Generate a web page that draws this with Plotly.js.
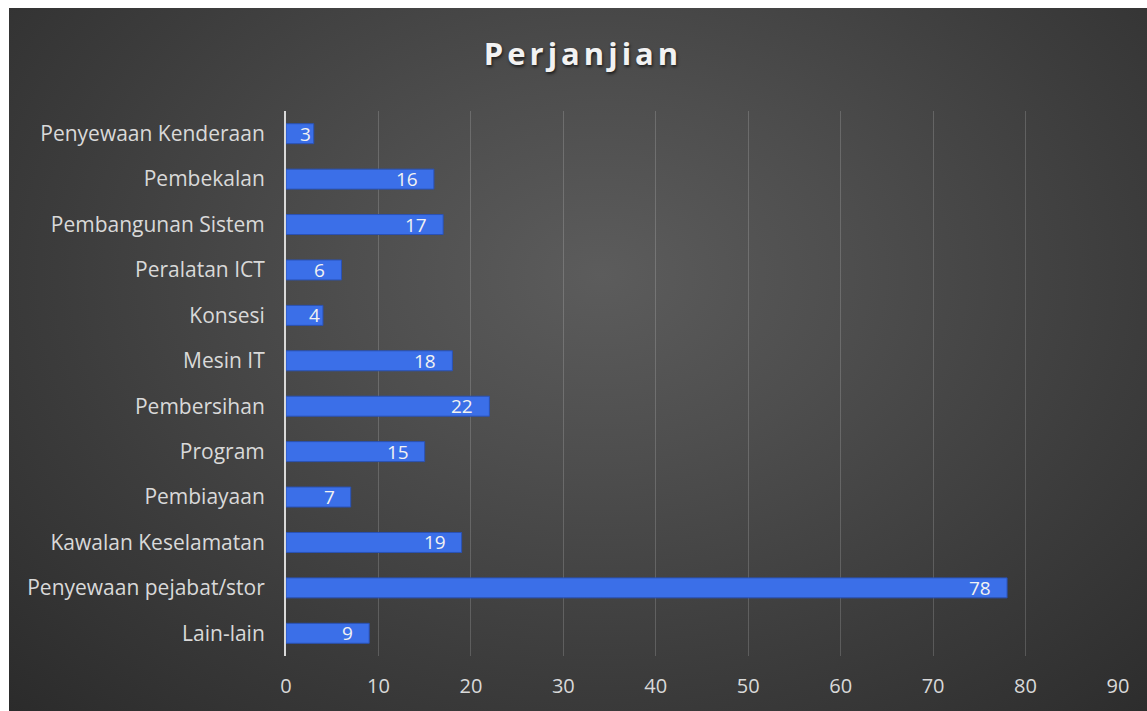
<!DOCTYPE html>
<html>
<head>
<meta charset="utf-8">
<script src="https://cdn.plot.ly/plotly-3.0.1.min.js"></script>
<style>
  html, body { margin: 0; padding: 0; background: #ffffff; width: 1147px; height: 711px; overflow: hidden; }
  #chart {
    position: absolute; left: 9px; top: 8px; width: 1138px; height: 703px;
    background: radial-gradient(ellipse farthest-corner at 52% 38%, #5c5c5c 0%, #4e4e4e 30%, #3c3c3c 65%, #2b2b2b 100%);
  }
  .gtitle { letter-spacing: 4px; }
</style>
</head>
<body>
<div id="chart"></div>
<script>
const categories = [
  "Penyewaan Kenderaan", "Pembekalan", "Pembangunan Sistem", "Peralatan ICT",
  "Konsesi", "Mesin IT", "Pembersihan", "Program", "Pembiayaan",
  "Kawalan Keselamatan", "Penyewaan pejabat/stor", "Lain-lain"
];
const values = [3, 16, 17, 6, 4, 18, 22, 15, 7, 19, 78, 9];
const xTicks = [0, 10, 20, 30, 40, 50, 60, 70, 80, 90];
const chartTitle = "Perjanjian";

const FONT = "Open Sans, Noto Sans, sans-serif";
const labelColor = "#d9d9d9";

const trace = {
  type: "bar",
  orientation: "h",
  x: values,
  y: categories,
  marker: { color: "#3b6fe8", line: { color: "#2a52b5", width: 1 } },
  width: 0.44,
  hoverinfo: "x+y"
};

const annotations = values.map((v, i) => ({
  x: v, y: categories[i], xref: "x", yref: "y",
  text: String(v), showarrow: false, xanchor: "right", yanchor: "middle",
  xshift: v < 5 ? -1 : -14,
  font: { family: FONT, size: 19, color: "#f2f2f2" }
}));

const layout = {
  width: 1138, height: 703,
  paper_bgcolor: "rgba(0,0,0,0)",
  plot_bgcolor: "rgba(0,0,0,0)",
  margin: { l: 277, r: 29, t: 103, b: 55 },
  showlegend: false,
  title: {
    text: "<b>" + chartTitle + "</b>",
    font: { family: FONT, size: 31, color: "#f2f2f2", shadow: "1px 2px 3px rgba(0,0,0,0.6)" },
    xref: "container", yref: "container", x: 0.5044, y: 0.935, xanchor: "center", yanchor: "middle"
  },
  xaxis: {
    range: [0, 90], tickvals: xTicks, ticktext: xTicks.map(String),
    showgrid: true, gridcolor: "rgba(255,255,255,0.17)", gridwidth: 1,
    zeroline: false, showline: false,
    ticks: "outside", ticklen: 12, tickcolor: "rgba(0,0,0,0)",
    tickfont: { family: FONT, size: 20, color: labelColor },
    fixedrange: true
  },
  yaxis: {
    type: "category", categoryorder: "array", categoryarray: categories,
    autorange: "reversed",
    showgrid: false, zeroline: false,
    showline: true, linecolor: "#d9d9d9", linewidth: 2,
    ticks: "outside", ticklen: 15, tickcolor: "rgba(0,0,0,0)",
    tickfont: { family: FONT, size: 21, color: labelColor },
    fixedrange: true
  },
  annotations: annotations,
  font: { family: FONT, color: labelColor }
};

Plotly.newPlot("chart", [trace], layout, { displayModeBar: false, staticPlot: true });
</script>
</body>
</html>
